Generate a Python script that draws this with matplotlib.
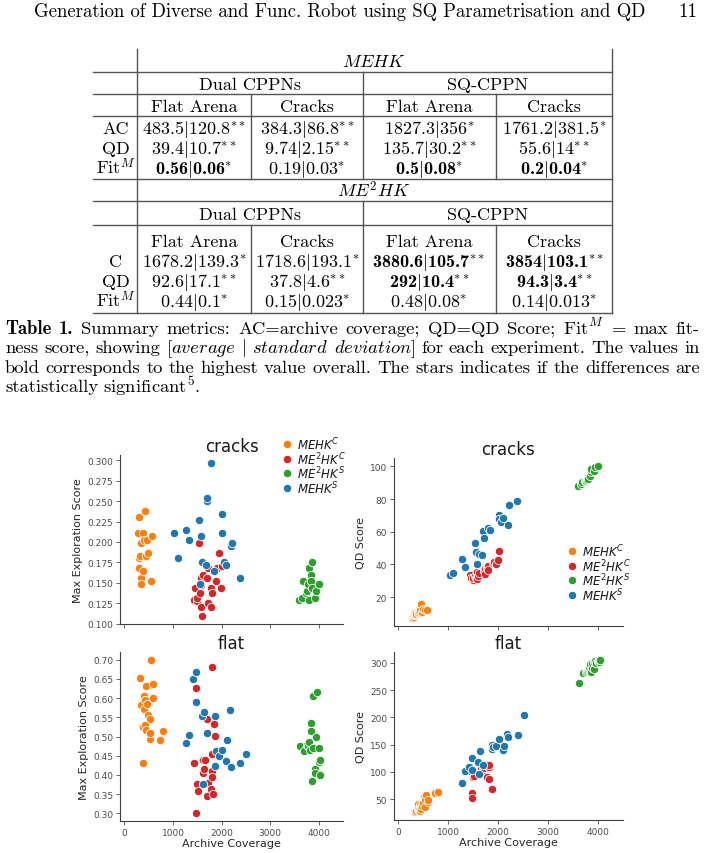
import matplotlib
matplotlib.use("Agg")
from matplotlib import pyplot as plt

# ---- table values ----
block_titles = [r"$MEHK$", r"$ME^2HK$"]
archs = ["Dual CPPNs", "SQ-CPPN"]
envs = ["Flat Arena", "Cracks", "Flat Arena", "Cracks"]
rows_mehk = ["AC", "QD", "Fit$^M$"]
rows_me2hk = ["C", "QD", "Fit$^M$"]
cells_mehk = [
    ["483.5$|$120.8$^{**}$", "384.3$|$86.8$^{**}$", "1827.3$|$356$^{*}$", "1761.2$|$381.5$^{*}$"],
    ["39.4$|$10.7$^{**}$", "9.74$|$2.15$^{**}$", "135.7$|$30.2$^{**}$", "55.6$|$14$^{**}$"],
    ["0.56$|$0.06$^{*}$", "0.19$|$0.03$^{*}$", "0.5$|$0.08$^{*}$", "0.2$|$0.04$^{*}$"],
]
bold_mehk = [[0, 0, 0, 0], [0, 0, 0, 0], [1, 0, 1, 1]]
cells_me2hk = [
    ["1678.2$|$139.3$^{*}$", "1718.6$|$193.1$^{*}$", "3880.6$|$105.7$^{**}$", "3854$|$103.1$^{**}$"],
    ["92.6$|$17.1$^{**}$", "37.8$|$4.6$^{**}$", "292$|$10.4$^{**}$", "94.3$|$3.4$^{**}$"],
    ["0.44$|$0.1$^{*}$", "0.15$|$0.023$^{*}$", "0.48$|$0.08$^{*}$", "0.14$|$0.013$^{*}$"],
]
bold_me2hk = [[0, 0, 1, 1], [0, 0, 1, 1], [0, 0, 0, 0]]

# ---- scatter values: archive coverage, max exploration, QD score ----
labels = [r"$MEHK^C$", r"$ME^2HK^C$", r"$ME^2HK^S$", r"$MEHK^S$"]
colors = ["#ff7f0e", "#d62728", "#2ca02c", "#1f77b4"]

cracks_mehk_c_x = [277, 291, 304, 311, 324, 338, 338, 345, 392, 392, 405, 432, 446, 473, 486, 541, 568]
cracks_mehk_c_explo = [0.211, 0.168, 0.180, 0.231, 0.183, 0.156, 0.148, 0.199, 0.211, 0.164, 0.203, 0.238, 0.183, 0.203, 0.187, 0.152, 0.207]
cracks_mehk_c_qd = [7.0, 7.5, 8.0, 8.8, 9.0, 9.5, 10.0, 9.8, 10.5, 11.0, 11.5, 12.0, 15.5, 11.0, 12.5, 12.3, 12.0]

cracks_me2hk_c_x = [1426, 1453, 1486, 1493, 1527, 1561, 1574, 1574, 1574, 1588, 1622, 1709, 1730, 1730, 1777, 1790, 1797, 1892, 1912, 1953, 1986, 2014]
cracks_me2hk_c_explo = [0.129, 0.144, 0.128, 0.132, 0.199, 0.137, 0.156, 0.147, 0.121, 0.109, 0.160, 0.156, 0.168, 0.125, 0.144, 0.121, 0.137, 0.152, 0.168, 0.187, 0.144, 0.171]
cracks_me2hk_c_qd = [33.5, 32.0, 30.5, 31.5, 33.0, 32.0, 33.5, 35.5, 30.8, 33.0, 34.5, 36.0, 37.0, 34.0, 38.0, 39.0, 36.5, 41.0, 41.5, 40.5, 42.5, 48.3]

cracks_me2hk_s_x = [3601, 3649, 3669, 3736, 3757, 3784, 3804, 3804, 3838, 3838, 3858, 3858, 3919, 3939, 4007]
cracks_me2hk_s_explo = [0.129, 0.132, 0.152, 0.137, 0.140, 0.148, 0.168, 0.129, 0.160, 0.152, 0.176, 0.144, 0.132, 0.140, 0.148]
cracks_me2hk_s_qd = [88.3, 89.5, 90.2, 91.0, 90.8, 92.0, 93.5, 92.5, 95.5, 94.0, 96.5, 98.5, 97.0, 99.5, 100.5]

cracks_mehk_s_x = [1027, 1101, 1270, 1338, 1527, 1561, 1574, 1608, 1676, 1696, 1709, 1791, 1838, 2014, 2014, 2047, 2095, 2196, 2216, 2385]
cracks_mehk_s_explo = [0.211, 0.180, 0.215, 0.203, 0.227, 0.148, 0.207, 0.176, 0.172, 0.250, 0.254, 0.297, 0.164, 0.234, 0.211, 0.176, 0.172, 0.195, 0.199, 0.156]
cracks_mehk_s_qd = [33.6, 34.8, 43.3, 38.3, 53.0, 47.4, 40.3, 46.4, 45.7, 60.5, 56.5, 62.6, 61.1, 70.0, 67.6, 66.2, 68.6, 64.0, 76.1, 79.1]

flat_mehk_c_x = [329, 350, 384, 391, 398, 411, 432, 432, 452, 453, 466, 487, 521, 535, 535, 549, 583, 590, 727, 796]
flat_mehk_c_explo = [0.652, 0.581, 0.431, 0.525, 0.572, 0.606, 0.594, 0.531, 0.632, 0.518, 0.584, 0.555, 0.494, 0.545, 0.510, 0.700, 0.636, 0.600, 0.490, 0.514]
flat_mehk_c_qd = [26, 28, 42, 30, 33, 31, 40, 29, 35, 32, 38, 44, 55, 36, 50, 57, 45, 48, 61, 63]

flat_me2hk_c_x = [1441, 1468, 1482, 1495, 1509, 1619, 1619, 1646, 1653, 1701, 1701, 1715, 1777, 1805, 1805, 1805, 1811, 1818, 1852, 1873]
flat_me2hk_c_explo = [0.431, 0.625, 0.300, 0.376, 0.359, 0.440, 0.406, 0.415, 0.438, 0.546, 0.344, 0.379, 0.363, 0.455, 0.411, 0.394, 0.680, 0.351, 0.533, 0.501]
flat_me2hk_c_qd = [101, 62, 53, 90, 92, 98, 100, 103, 105, 104, 107, 107, 90, 113, 107, 110, 112, 88, 69, 68]

flat_me2hk_s_x = [3623, 3691, 3760, 3774, 3794, 3828, 3842, 3842, 3862, 3876, 3883, 3918, 3918, 3938, 3966, 4007, 4014, 4021, 4034]
flat_me2hk_s_explo = [0.475, 0.463, 0.478, 0.476, 0.485, 0.464, 0.534, 0.514, 0.383, 0.470, 0.606, 0.415, 0.406, 0.498, 0.617, 0.434, 0.470, 0.440, 0.399]
flat_me2hk_s_qd = [263, 281, 283, 285, 287, 289, 298, 286, 283, 291, 300, 288, 302, 304, 300, 303, 301, 306, 305]

flat_mehk_s_x = [1269, 1324, 1413, 1475, 1475, 1592, 1619, 1633, 1701, 1873, 1873, 1894, 1956, 2010, 2093, 2113, 2181, 2196, 2388, 2510]
flat_mehk_s_explo = [0.483, 0.505, 0.649, 0.669, 0.590, 0.553, 0.376, 0.564, 0.510, 0.553, 0.422, 0.462, 0.450, 0.466, 0.435, 0.490, 0.569, 0.420, 0.431, 0.455]
flat_mehk_s_qd = [79, 102, 110, 125, 103, 119, 96, 139, 112, 150, 143, 146, 147, 160, 141, 147, 169, 164, 167, 204]

cracks = [
    (cracks_mehk_c_x, cracks_mehk_c_explo, cracks_mehk_c_qd),
    (cracks_me2hk_c_x, cracks_me2hk_c_explo, cracks_me2hk_c_qd),
    (cracks_me2hk_s_x, cracks_me2hk_s_explo, cracks_me2hk_s_qd),
    (cracks_mehk_s_x, cracks_mehk_s_explo, cracks_mehk_s_qd),
]
flat = [
    (flat_mehk_c_x, flat_mehk_c_explo, flat_mehk_c_qd),
    (flat_me2hk_c_x, flat_me2hk_c_explo, flat_me2hk_c_qd),
    (flat_me2hk_s_x, flat_me2hk_s_explo, flat_me2hk_s_qd),
    (flat_mehk_s_x, flat_mehk_s_explo, flat_mehk_s_qd),
]

plt.rcParams["font.family"] = "DejaVu Sans"
W, H = 704, 854
fig = plt.figure(figsize=(W / 100, H / 100), dpi=100)

# page layer in pixel coordinates
page = fig.add_axes([0, 0, 1, 1])
page.set_xlim(0, W)
page.set_ylim(H, 0)
page.axis("off")

TS = 13


def tx(x, y, s, size=TS, ha="center", family="cmr10"):
    return page.text(x, y, s, fontsize=size, ha=ha, va="baseline",
                     family=family, math_fontfamily="cm")


# header
tx(340, 17, "Generation of Diverse and Func. Robot using SQ Parametrisation and QD", size=13.5)
tx(697, 17, "11", size=13.5, ha="right")

# table lines
lc = "#555555"
L, R = 93, 612
for y in [73, 95, 117, 180, 202, 226, 314]:
    page.plot([L, R], [y, y], color=lc, lw=1.0)
page.plot([137, 137], [50, 314], color=lc, lw=1.0)
page.plot([R, R], [50, 314], color=lc, lw=1.0)
for y0, y1 in [(73, 180), (202, 314)]:
    page.plot([363, 363], [y0, y1], color=lc, lw=1.0)
for y0, y1 in [(95, 180), (226, 314)]:
    for x in [251, 496]:
        page.plot([x, x], [y0, y1], color=lc, lw=1.0)

col_x = [194, 307, 429, 554]
arch_x = [250, 487]
off = 6
for bt, ty, ay, ey, rows, cells, bold, ry in [
        (block_titles[0], 61, 84, 106, rows_mehk, cells_mehk, bold_mehk, [128, 148, 168]),
        (block_titles[1], 191, 214, 241, rows_me2hk, cells_me2hk, bold_me2hk, [261, 281, 301])]:
    tx(374, ty + off, bt)
    for a, x in zip(archs, arch_x):
        tx(x, ay + off, a)
    for e, x in zip(envs, col_x):
        tx(x, ey + off, e)
    for r, y, row, brow in zip(rows, ry, cells, bold):
        tx(116, y + off, r)
        for c, x, b in zip(row, col_x, brow):
            tx(x, y + off, c, family="cmb10" if b else "cmr10")

# caption, justified lines
renderer = fig.canvas.get_renderer()
CS = 13.4


def justify(words, y, x0=5, x1=700, full=True, size=CS):
    arts = []
    for w in words:
        fam = "cmr10"
        if isinstance(w, tuple):
            w, fam = w
        arts.append(tx(0, y, w, size=size, ha="left", family=fam))
    widths = [a.get_window_extent(renderer).width for a in arts]
    gap = (x1 - x0 - sum(widths)) / (len(arts) - 1) if full else 5.0
    x = x0
    for a, wd in zip(arts, widths):
        a.set_x(x)
        x += wd + gap


justify([("Table", "cmb10"), ("1.", "cmb10"), "Summary", "metrics:", "AC=archive", "coverage;",
         "QD=QD", "Score;", "Fit$^M$", "=", "max", "fit-"], 334)
justify(["ness", "score,", "showing", r"[$\mathit{average}$", "$|$", r"$\mathit{standard}$",
         r"$\mathit{deviation}$]", "for", "each", "experiment.", "The", "values", "in"], 353)
justify(["bold", "corresponds", "to", "the", "highest", "value", "overall.", "The", "stars",
         "indicates", "if", "the", "differences", "are"], 373.5)
justify(["statistically", "significant$^5$."], 392.5, full=False)


# scatter panels
def add_ax(left, top, right, bottom):
    return fig.add_axes([left / W, 1 - bottom / H, (right - left) / W, (bottom - top) / H])


def style(ax, title, ylabel, xlabels):
    ax.set_xlim(-90, 4500)
    ax.set_xticks([0, 1000, 2000, 3000, 4000])
    if not xlabels:
        ax.set_xticklabels([])
    else:
        ax.set_xlabel("Archive Coverage", fontsize=8, labelpad=1, color="0.15")
    ax.set_title(title, fontsize=12, pad=3, color="0.1")
    ax.set_ylabel(ylabel, fontsize=8, labelpad=3, color="0.15")
    for s in ["top", "right"]:
        ax.spines[s].set_visible(False)
    for s in ["left", "bottom"]:
        ax.spines[s].set_color("0.25")
        ax.spines[s].set_linewidth(0.8)
    ax.tick_params(labelsize=6.5, colors="0.3", length=3, width=0.6, pad=2)


axes = {
    ("cracks", 1): add_ax(120, 456, 343, 625),
    ("cracks", 2): add_ax(394, 459, 623, 627),
    ("flat", 1): add_ax(120, 653, 343, 822),
    ("flat", 2): add_ax(394, 653, 623, 821),
}
for name, groups in [("cracks", cracks), ("flat", flat)]:
    for k in (1, 2):
        ax = axes[(name, k)]
        for (xs, ex, qd), c in zip(groups, colors):
            ax.scatter(xs, ex if k == 1 else qd, s=36, color=c, edgecolor="white", linewidth=0.6)
        ax.margins(y=0.05)
        style(ax, name, "Max Exploration Score" if k == 1 else "QD Score", name == "flat")

axes[("cracks", 1)].set_yticks([0.1, 0.125, 0.15, 0.175, 0.2, 0.225, 0.25, 0.275, 0.3])
axes[("cracks", 1)].set_yticklabels(["0.100", "0.125", "0.150", "0.175", "0.200", "0.225", "0.250", "0.275", "0.300"])
axes[("cracks", 2)].set_yticks([20, 40, 60, 80, 100])
axes[("flat", 1)].set_yticks([0.3, 0.35, 0.4, 0.45, 0.5, 0.55, 0.6, 0.65, 0.7])
axes[("flat", 1)].set_yticklabels(["0.30", "0.35", "0.40", "0.45", "0.50", "0.55", "0.60", "0.65", "0.70"])
axes[("flat", 2)].set_yticks([50, 100, 150, 200, 250, 300])

# legends on an overlay layer, drawn above the panels
over = fig.add_axes([0, 0, 1, 1])
over.set_xlim(0, W)
over.set_ylim(H, 0)
over.axis("off")
for mx, y0 in [(287, 445), (572, 552)]:
    for i, (lab, c) in enumerate(zip(labels, colors)):
        y = y0 + i * 14.7
        over.scatter([mx], [y], s=36, color=c, edgecolor="white", linewidth=0.6)
        over.text(mx + 10, y, lab, fontsize=8.5, ha="left", va="center", color="0.1")

fig.savefig("out.png", dpi=100)
